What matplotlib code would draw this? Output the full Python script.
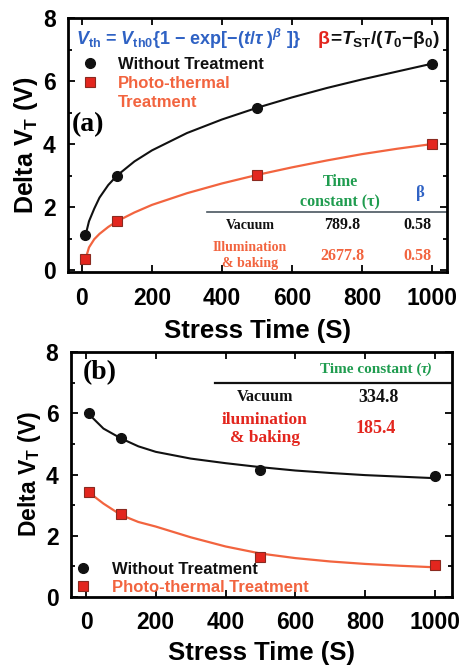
import numpy as np
import matplotlib
matplotlib.use("Agg")
import matplotlib.pyplot as plt
from matplotlib.lines import Line2D
from matplotlib.ticker import MultipleLocator

plt.rcParams['font.family'] = ['Liberation Sans', 'DejaVu Sans']
plt.rcParams['font.weight'] = 'bold'
plt.rcParams['mathtext.fontset'] = 'custom'
plt.rcParams['mathtext.rm'] = 'Liberation Sans:bold'
plt.rcParams['mathtext.it'] = 'Liberation Sans:bold:italic'
plt.rcParams['mathtext.bf'] = 'Liberation Sans:bold'

# Farben
SCHWARZ = "#111111"
ROT = "#e3261e"
ORANGE = "#f2643f"
BLAU = "#2f62c4"
GRUEN = "#1f9c4f"

# Daten (a) - Stress
t_a = [10, 100, 500, 1000]
ohne_a = [1.1, 3.0, 5.15, 6.55]
photo_a = [0.35, 1.55, 3.02, 4.0]

# Fitkurven (a)
fit_t_a = [10, 20, 35, 50, 75, 100, 150, 200, 300, 400, 500, 600, 700, 800, 900, 1000]
fit_ohne_a = [1.1, 1.55, 1.95, 2.3, 2.7, 3.0, 3.45, 3.8, 4.35, 4.78, 5.15, 5.48, 5.78, 6.05, 6.3, 6.55]
fit_photo_a = [0.35, 0.72, 0.98, 1.15, 1.37, 1.55, 1.83, 2.07, 2.44, 2.75, 3.02, 3.26, 3.48, 3.68, 3.85, 4.0]

# Daten (b) - Erholung
t_b = [10, 100, 500, 1000]
ohne_b = [6.0, 5.2, 4.15, 3.95]
photo_b = [3.42, 2.7, 1.32, 1.06]

fit_t_b = [10, 50, 100, 150, 200, 300, 400, 500, 600, 700, 800, 900, 1000]
fit_ohne_b = [5.95, 5.5, 5.18, 4.92, 4.74, 4.52, 4.37, 4.24, 4.13, 4.05, 3.98, 3.93, 3.88]
fit_photo_b = [3.4, 3.05, 2.68, 2.45, 2.3, 1.95, 1.65, 1.42, 1.27, 1.16, 1.08, 1.02, 0.97]

# Tabellen
tau_a = ["789.8", "2677.8"]
beta_a = ["0.58", "0.58"]
tau_b = ["334.8", "185.4"]

W, H = 462, 665
fig = plt.figure(figsize=(W / 100, H / 100), dpi=100)
ax1 = fig.add_axes([68 / W, 1 - 272 / H, 379 / W, 254 / H])
ax2 = fig.add_axes([71 / W, 1 - 597 / H, 381 / W, 245 / H])


def achse(ax, xlim, ylim, ylab_size, xpad, xlabpad):
    ax.set_xlim(*xlim)
    ax.set_ylim(*ylim)
    ax.xaxis.set_major_locator(MultipleLocator(200))
    ax.yaxis.set_major_locator(MultipleLocator(2))
    ax.yaxis.set_minor_locator(MultipleLocator(1))
    ax.tick_params(which='both', direction='in', top=True, right=True, width=1.3)
    ax.tick_params(which='major', length=5, labelsize=16.5)
    ax.tick_params(axis='x', which='major', pad=xpad)
    ax.tick_params(axis='y', which='major', pad=9)
    ax.tick_params(which='minor', length=3)
    for lab in ax.get_xticklabels() + ax.get_yticklabels():
        lab.set_fontweight('bold')
    for s in ax.spines.values():
        s.set_linewidth(2)
    ax.set_xlabel("Stress Time (S)", fontsize=18.5, fontweight='bold', labelpad=xlabpad)
    ax.set_ylabel("Delta V$_{\\rm T}$ (V)", fontsize=ylab_size, fontweight='bold', labelpad=2)


for ax, t, ohne, photo, ft, fo, fp in [
    (ax1, t_a, ohne_a, photo_a, fit_t_a, fit_ohne_a, fit_photo_a),
    (ax2, t_b, ohne_b, photo_b, fit_t_b, fit_ohne_b, fit_photo_b),
]:
    ax.plot(ft, fo, color=SCHWARZ, lw=1.5, zorder=2)
    ax.plot(ft, fp, color=ORANGE, lw=1.6, zorder=2)
    ax.plot(t, ohne, 'o', color=SCHWARZ, ms=7, zorder=3)
    ax.plot(t, photo, 's', color=ROT, mec="#8a2a20", mew=0.8, ms=7, zorder=3)

achse(ax1, (-40, 1043), (-0.06, 8), 18, 11, 6)
achse(ax2, (-43, 1049), (0, 8), 16.5, 10, 5)

# Legende (a)
h1 = Line2D([], [], ls='none', marker='o', color=SCHWARZ, ms=7)
h2 = Line2D([], [], ls='none', marker='s', color=ROT, mec="#8a2a20", mew=0.8, ms=7)
h0 = Line2D([], [], ls='none')
leg = ax1.legend([h1, h2, h0], ["Without Treatment", "Photo-thermal", "Treatment"],
                 loc='upper left', bbox_to_anchor=(0.036, 0.848), frameon=False,
                 handlelength=1.0, handletextpad=1.2,
                 borderpad=0, borderaxespad=0, labelspacing=0.25,
                 prop={'weight': 'bold', 'size': 12})
for txt, c in zip(leg.get_texts(), [SCHWARZ, ORANGE, ORANGE]):
    txt.set_color(c)

# Formel
ax1.text(0.022, 0.917, r"$V_{\rm th}$ = $V_{\rm th0}${1 $-$ exp[$-$($t/\tau$ )$^{\beta}$ ]}",
         transform=ax1.transAxes, color=BLAU, fontsize=13, fontweight='bold', va='center')
ax1.text(0.658, 0.917, r"$\mathrm{\beta}$", transform=ax1.transAxes, color=ROT,
         fontsize=14, va='center')
ax1.text(0.690, 0.917, r"=$T_{\rm ST}$/($T_{0}$$-$$\mathrm{\beta}_{0}$)", transform=ax1.transAxes,
         color=SCHWARZ, fontsize=13.8, va='center')

ax1.text(0.011, 0.579, "(a)", transform=ax1.transAxes, fontsize=20, fontweight='bold',
         family='Liberation Serif', va='center')

# Tabelle (a)
serif = dict(family='Liberation Serif', fontweight='bold', ha='center', va='center',
             transform=ax1.transAxes)
ax1.text(0.718, 0.354, "Time", color=GRUEN, fontsize=11.5, **serif)
ax1.text(0.718, 0.276, "constant (τ)", color=GRUEN, fontsize=11.5, **serif)
ax1.text(0.929, 0.311, "β", color=BLAU, fontsize=12, **serif)
ax1.plot([0.367, 1.0], [0.236, 0.236], color="#4a5660", lw=1.2, transform=ax1.transAxes)
ax1.text(0.480, 0.185, "Vacuum", color=SCHWARZ, fontsize=10, **serif)
ax1.text(0.723, 0.185, tau_a[0], color=SCHWARZ, fontsize=11.5, **serif)
ax1.text(0.923, 0.185, beta_a[0], color=SCHWARZ, fontsize=11.5, **serif)
ax1.text(0.480, 0.098, "Illumination", color=ORANGE, fontsize=10, **serif)
ax1.text(0.480, 0.035, "& baking", color=ORANGE, fontsize=10, **serif)
ax1.text(0.723, 0.063, tau_a[1], color=ORANGE, fontsize=11.5, **serif)
ax1.text(0.923, 0.063, beta_a[1], color=ORANGE, fontsize=11.5, **serif)

# Legende (b)
leg2 = ax2.legend([h1, h2], ["Without Treatment", "Photo-thermal Treatment"],
                  loc='lower left', bbox_to_anchor=(0.01, 0.008), frameon=False,
                  handlelength=1.0, handletextpad=1.25,
                  borderpad=0, borderaxespad=0, labelspacing=0.2,
                  prop={'weight': 'bold', 'size': 12})
for txt, c in zip(leg2.get_texts(), [SCHWARZ, ORANGE]):
    txt.set_color(c)

ax2.text(0.031, 0.914, "(b)", transform=ax2.transAxes, fontsize=20, fontweight='bold',
         family='Liberation Serif', va='center')

# Tabelle (b)
serif2 = dict(serif, transform=ax2.transAxes)
ax2.text(0.919, 0.931, "Time constant (", color=GRUEN, fontsize=11,
         **dict(serif2, ha='right'))
ax2.text(0.919, 0.931, "τ)", color=GRUEN, fontsize=11, fontstyle='italic',
         **dict(serif2, ha='left'))
ax2.plot([0.378, 1.0], [0.873, 0.873], color=SCHWARZ, lw=1.6, transform=ax2.transAxes)
ax2.text(0.509, 0.816, "Vacuum", color=SCHWARZ, fontsize=11.5, **serif2)
ax2.text(0.808, 0.816, tau_b[0], color=SCHWARZ, fontsize=13, **serif2)
ax2.text(0.509, 0.722, "ilumination", color=ROT, fontsize=12.5, **serif2)
ax2.text(0.509, 0.649, "& baking", color=ROT, fontsize=12.5, **serif2)
ax2.text(0.801, 0.686, tau_b[1], color=ROT, fontsize=13, **serif2)

fig.savefig("out.png", dpi=100)
